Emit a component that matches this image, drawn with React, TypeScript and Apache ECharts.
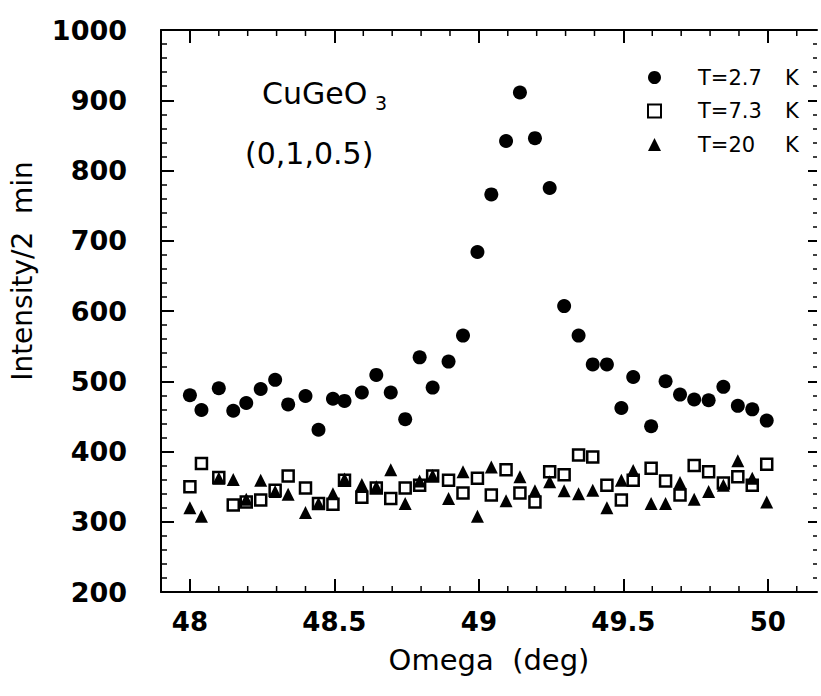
import React, { useEffect, useRef } from "react";
import * as echarts from "echarts";

const omega = [
  48.0, 48.04, 48.1, 48.15, 48.195, 48.245, 48.295, 48.34, 48.4, 48.445,
  48.495, 48.535, 48.595, 48.645, 48.695, 48.745, 48.795, 48.84, 48.895, 48.945,
  48.995, 49.043, 49.094, 49.142, 49.194, 49.245, 49.295, 49.345, 49.394, 49.443,
  49.493, 49.534, 49.596, 49.646, 49.696, 49.745, 49.795, 49.846, 49.896, 49.946,
  49.996,
];
const intensityT27 = [
  480, 459, 490, 458, 469, 489, 502, 467, 479, 431,
  475, 472, 484, 509, 484, 446, 534, 491, 528, 565,
  684, 766, 842, 911, 846, 775, 607, 565, 524, 524,
  462, 506, 436, 500, 481, 474, 473, 492, 465, 460,
  444,
];
const intensityT73 = [
  350, 383, 363, 324, 328, 331, 345, 365, 348, 326,
  325, 359, 335, 348, 333, 348, 352, 365, 359, 341,
  362, 338, 374, 341, 328, 371, 367, 395, 392, 352,
  331, 359, 376, 358, 338, 380, 371, 355, 364, 352,
  382,
];
const intensityT20 = [
  320, 308, 362, 360, 332, 359, 343, 339, 313, 326,
  340, 361, 353, 350, 374, 326, 358, 366, 333, 371,
  308, 378, 330, 364, 344, 357, 344, 340, 345, 320,
  359, 373, 326, 326, 356, 332, 343, 352, 387, 362,
  328,
];
const seriesNames = ["T=2.7 K", "T=7.3 K", "T=20 K"];
const xTickValues = [48, 48.5, 49, 49.5, 50];
const xMinorTickValues = [
  48.1, 48.2, 48.3, 48.4, 48.6, 48.7, 48.8, 48.9, 49.1, 49.2,
  49.3, 49.4, 49.6, 49.7, 49.8, 49.9, 50.1,
];
const annotationMain = "CuGeO";
const annotationSub = "3";
const annotationHkl = "(0,1,0.5)";
const xAxisTitle = "Omega  (deg)";
const yAxisTitle = "Intensity/2  min";

const FONT = "DejaVu Sans";
const X_MIN = 47.9;
const X_MAX = 50.17;
const Y_MIN = 200;
const Y_MAX = 1000;

function majorTick(length = 13) {
  return { show: true, inside: true, length, lineStyle: { color: "#000", width: 2 } };
}

function xMinorTickSeries(values: number[]) {
  return {
    type: "custom",
    silent: true,
    clip: false,
    z: 1,
    xAxisIndex: 0,
    yAxisIndex: 0,
    data: values.map((v) => [v, Y_MIN]),
    renderItem: (params: any, api: any) => {
      const cs = params.coordSys;
      const x = api.coord([api.value(0), Y_MIN])[0];
      const yb = cs.y + cs.height;
      const style = { stroke: "#000", lineWidth: 1.5 };
      return {
        type: "group",
        children: [
          { type: "line", shape: { x1: x, y1: yb, x2: x, y2: yb - 6 }, style },
          { type: "line", shape: { x1: x, y1: cs.y, x2: x, y2: cs.y + 6 }, style },
        ],
      };
    },
  };
}

export default function App() {
  const ref = useRef<HTMLDivElement>(null);
  useEffect(() => {
    const chart = echarts.init(ref.current as HTMLDivElement, null, { renderer: "svg" });
    const option: any = {
      animation: false,
      grid: { left: 161, top: 30, right: 4, bottom: 104 },
      xAxis: [
        {
          type: "value",
          min: X_MIN,
          max: X_MAX,
          position: "bottom",
          splitLine: { show: false },
          axisLine: { show: true, lineStyle: { color: "#000", width: 2 } },
          axisTick: { ...majorTick(13), customValues: xTickValues },
          axisLabel: {
            customValues: xTickValues,
            margin: 17,
            fontSize: 26,
            fontWeight: "bold",
            fontFamily: FONT,
            color: "#000",
          },
          name: xAxisTitle,
          nameLocation: "middle",
          nameGap: 53,
          nameTextStyle: { fontSize: 29, fontFamily: FONT, color: "#000" },
        },
        {
          type: "value",
          min: X_MIN,
          max: X_MAX,
          position: "top",
          splitLine: { show: false },
          axisLine: { show: true, lineStyle: { color: "#000", width: 2 } },
          axisTick: { ...majorTick(13), customValues: xTickValues },
          axisLabel: { show: false },
        },
      ],
      yAxis: [
        {
          type: "value",
          min: Y_MIN,
          max: Y_MAX,
          interval: 100,
          position: "left",
          splitLine: { show: false },
          axisLine: { show: true, lineStyle: { color: "#000", width: 2 } },
          axisTick: majorTick(13),
          minorTick: { show: true, splitNumber: 5, length: 6, lineStyle: { color: "#000", width: 1.5 } },
          axisLabel: {
            margin: 34,
            fontSize: 27,
            fontWeight: "bold",
            fontFamily: FONT,
            color: "#000",
            formatter: (v: number) => String(v),
          },
          name: yAxisTitle,
          nameLocation: "middle",
          nameGap: 125,
          nameTextStyle: { fontSize: 28, fontFamily: FONT, color: "#000", padding: [0, 0, 0, 80] },
        },
        {
          type: "value",
          min: Y_MIN,
          max: Y_MAX,
          interval: 100,
          position: "right",
          splitLine: { show: false },
          axisLine: { show: false },
          axisTick: majorTick(9),
          minorTick: { show: true, splitNumber: 5, length: 4, lineStyle: { color: "#000", width: 1.5 } },
          axisLabel: { show: false },
        },
      ],
      legend: {
        orient: "vertical",
        left: 642,
        top: 62,
        itemWidth: 13,
        itemHeight: 13,
        itemGap: 12.5,
        data: [
          { name: seriesNames[0], icon: "circle", itemStyle: { color: "#000", opacity: 1 } },
          {
            name: seriesNames[1],
            icon: "rect",
            itemStyle: { color: "rgba(0,0,0,0)", borderColor: "#000", borderWidth: 2, opacity: 1 },
          },
          { name: seriesNames[2], icon: "triangle", itemStyle: { color: "#000", opacity: 1 } },
        ],
        formatter: (name: string) => {
          const parts = name.split(" ");
          return `{g|\u00a0}{t|${parts[0]}}{k|${parts[1]}}`;
        },
        textStyle: {
          color: "#000",
          rich: {
            g: { width: 32, fontSize: 21, lineHeight: 24, fontFamily: FONT },
            t: { width: 87, fontSize: 21, lineHeight: 24, fontFamily: FONT, color: "#000" },
            k: { fontSize: 21, lineHeight: 24, fontFamily: FONT, color: "#000" },
          },
        },
      },
      series: [
        xMinorTickSeries(xMinorTickValues),
        {
          name: seriesNames[0],
          type: "scatter",
          symbol: "circle",
          symbolSize: 14,
          z: 3,
          itemStyle: { color: "#000", opacity: 1 },
          data: omega.map((x, i) => [x, intensityT27[i]]),
        },
        {
          name: seriesNames[1],
          type: "scatter",
          symbol: "rect",
          symbolSize: 11,
          z: 3,
          itemStyle: { color: "rgba(0,0,0,0)", borderColor: "#000", borderWidth: 2.5, opacity: 1 },
          data: omega.map((x, i) => [x, intensityT73[i]]),
        },
        {
          name: seriesNames[2],
          type: "scatter",
          symbol: "triangle",
          symbolSize: 13,
          z: 3,
          itemStyle: { color: "#000", opacity: 1 },
          data: omega.map((x, i) => [x, intensityT20[i]]),
        },
      ],
      graphic: [
        {
          type: "text",
          x: 262,
          y: 93,
          style: { text: annotationMain, fontSize: 30, fontFamily: FONT, fill: "#000", align: "left", verticalAlign: "middle" },
        },
        {
          type: "text",
          x: 375,
          y: 103,
          style: { text: annotationSub, fontSize: 19, fontFamily: FONT, fill: "#000", align: "left", verticalAlign: "middle" },
        },
        {
          type: "text",
          x: 245,
          y: 153,
          style: { text: annotationHkl, fontSize: 30, fontFamily: FONT, fill: "#000", align: "left", verticalAlign: "middle" },
        },
      ],
    };
    chart.setOption(option);
    return () => chart.dispose();
  }, []);
  return (
    <div
      ref={ref}
      style={{ position: "absolute", left: 0, top: 0, width: 821, height: 696, background: "#fff" }}
    />
  );
}
